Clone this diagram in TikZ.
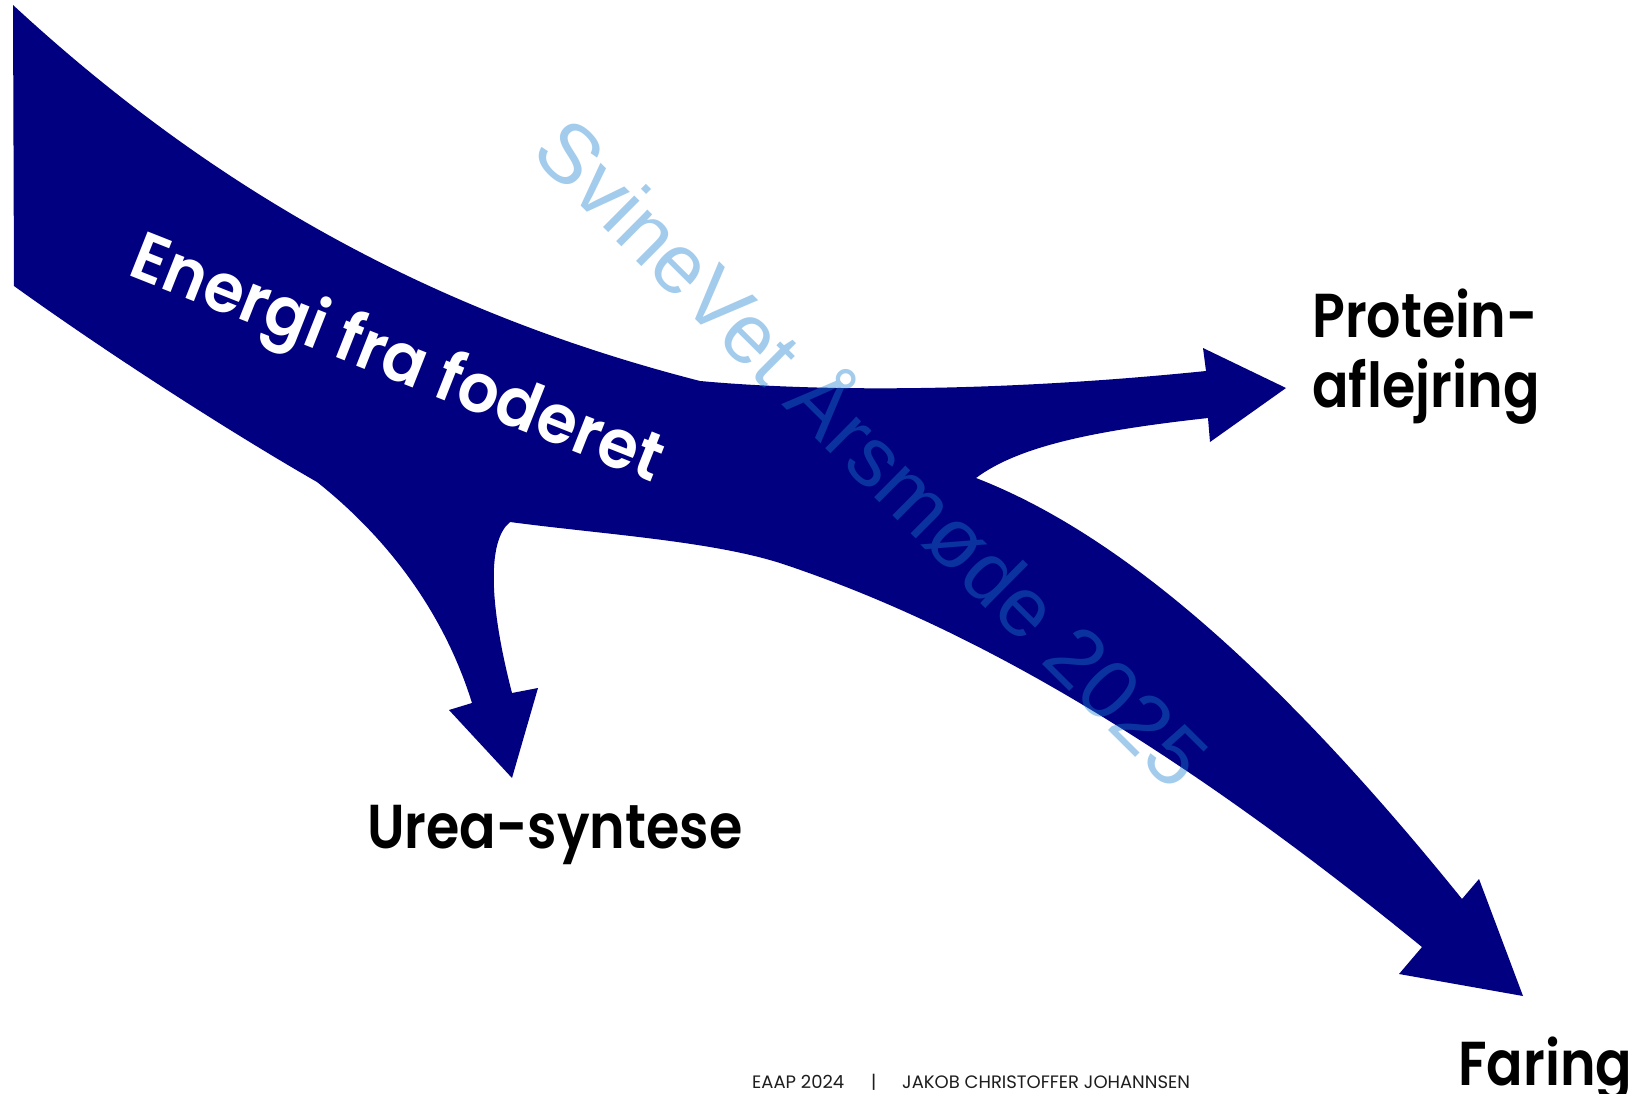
\documentclass[tikz,border=0pt]{standalone}
\usepackage{graphicx}
\usepackage{fontspec}
\setmainfont{Poppins}[BoldFont={Poppins SemiBold}]
\newfontfamily\wmfont{Liberation Sans}
\definecolor{bandnavy}{RGB}{0,0,128}
\definecolor{wmblue}{RGB}{25,128,208}
\definecolor{footgray}{RGB}{30,30,30}
\newcommand{\narrowtext}[1]{\scalebox{0.87}[1]{#1}}
\tikzset{
  band/.style={fill=bandnavy},
  lbltext/.style={inner sep=0pt, anchor=base west, font=\bfseries\fontsize{62}{70}\selectfont, text=black},
  foottext/.style={inner sep=0pt, anchor=base west, font=\fontsize{18}{20}\selectfont, text=footgray},
}
\begin{document}
\begin{tikzpicture}[x=1pt,y=-1pt]
\useasboundingbox[fill=white] (0,0) rectangle (1637,1094);
% the branching arrow band
\fill[band]
  (13,5) .. controls (240,215) and (470,322) .. (700,381)
  .. controls (820,392) and (1000,392) .. (1206,371)
  -- (1203,348) -- (1286,388) -- (1210,442) -- (1208,418)
  .. controls (1100,430) and (1020,445) .. (976,478)
  .. controls (1110,530) and (1265,655) .. (1462,899)
  -- (1479,879) -- (1523,996) -- (1399,974) -- (1422,947)
  .. controls (1150,725) and (950,620) .. (783,564)
  .. controls (713,541) and (600,534) .. (510,522)
  .. controls (488,540) and (488,600) .. (512,693)
  -- (538,688) -- (512,778) -- (449,710) -- (472,703)
  .. controls (440,600) and (375,528) .. (317,482)
  .. controls (230,432) and (110,355) .. (14,286)
  -- cycle;
% band label
\node[inner sep=0pt, anchor=base, rotate=-21.6, text=white, font=\bfseries\fontsize{68}{70}\selectfont] (energi) at (390,379) {\scalebox{0.95}[1]{Energi fra foderet}};
% outcome labels
\node[lbltext] (urea) at (367,848) {\narrowtext{Urea-syntese}};
\node[lbltext] (prot1) at (1312,337) {\narrowtext{Protein-}};
\node[lbltext] (prot2) at (1312,407) {\narrowtext{aflejring}};
\node[lbltext] (faring) at (1458,1085) {\narrowtext{Faring}};
% watermark
\node[inner sep=0pt, anchor=base, rotate=-44.8, text=wmblue, opacity=0.4, font=\wmfont\fontsize{84}{90}\selectfont] (wm) at (851,474) {SvineVet Årsmøde 2025};
% footer
\node[foottext] (f1) at (752,1088) {EAAP 2024};
\node[foottext] (f2) at (871,1088) {|};
\node[foottext] (f3) at (902,1088) {JAKOB CHRISTOFFER JOHANNSEN};
\end{tikzpicture}
\end{document}
